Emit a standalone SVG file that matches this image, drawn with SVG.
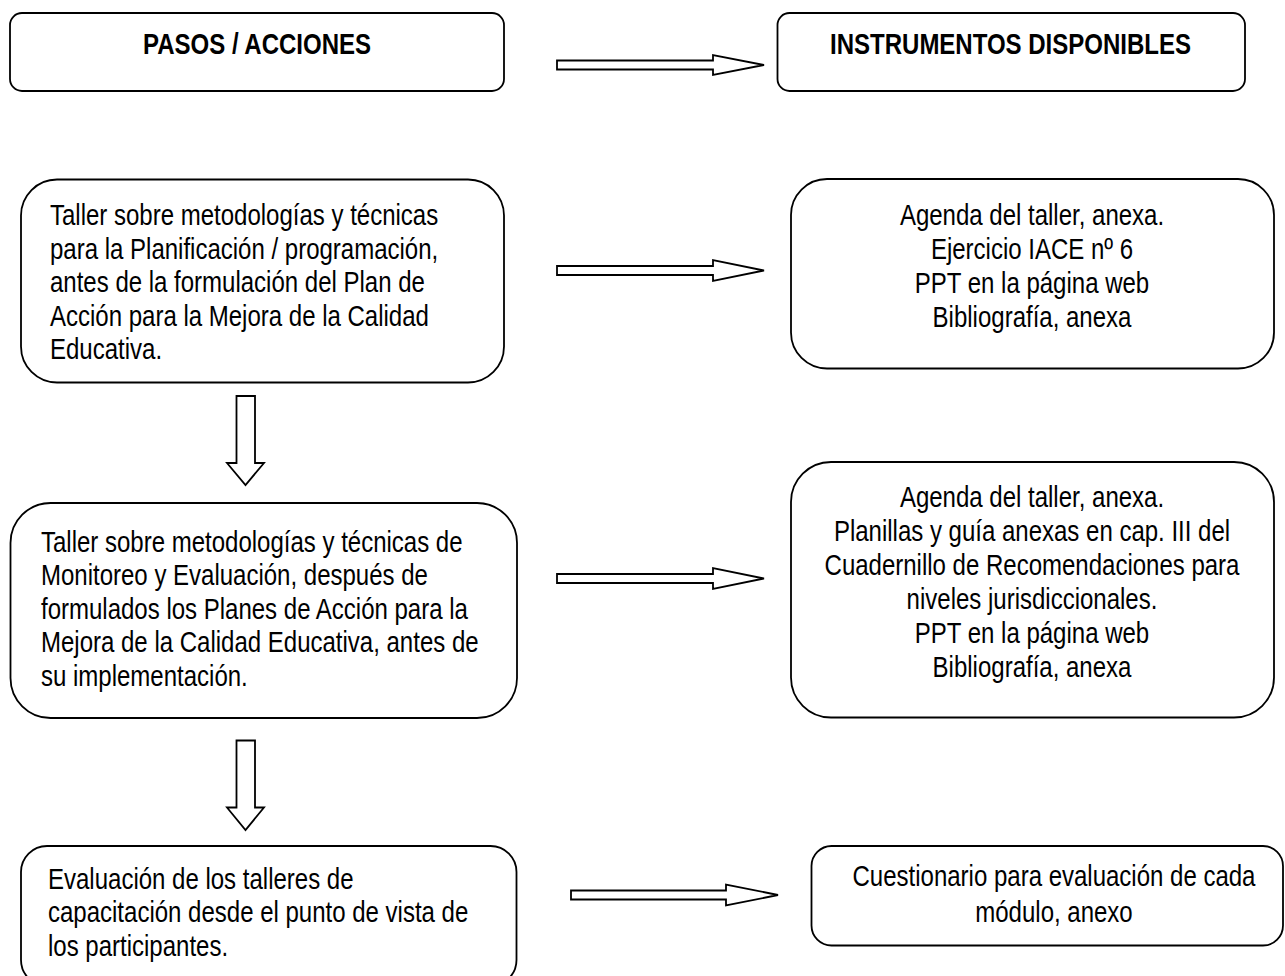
<svg xmlns="http://www.w3.org/2000/svg" width="1285" height="976" viewBox="0 0 1285 976">
<style>
.box{fill:#fff;stroke:#000;stroke-width:1.8}
.arr{fill:#fff;stroke:#000;stroke-width:1.8;stroke-linejoin:miter}
text{font-family:"Liberation Sans Narrow","Arial Narrow","Liberation Sans",Arial,sans-serif;font-size:29px;fill:#000}
.hd{font-weight:bold;text-anchor:middle}
.c{text-anchor:middle}
</style>
<rect width="1285" height="976" fill="#fff"/>
<g id="connectors">
<polygon class="arr" points="557,60.5 713,60.5 713,55 764,65 713,75 713,69.5 557,69.5"/>
<polygon class="arr" points="557,266 713,266 713,260 764,270.5 713,281 713,275 557,275"/>
<polygon class="arr" points="557,574 713,574 713,568 764,578.5 713,589 713,583 557,583"/>
<polygon class="arr" points="571,890.5 726,890.5 726,884.5 778,895 726,905.5 726,899.5 571,899.5"/>
<polygon class="arr" points="236.5,396 255,396 255,463 264,463 245.5,485 227,463 236.5,463"/>
<polygon class="arr" points="236.5,740.5 255,740.5 255,807.5 264,807.5 245.5,830 227,807.5 236.5,807.5"/>
</g>
<g id="head-pasos">
<rect class="box" x="10" y="13" width="494" height="78" rx="12"/>
<text class="hd" transform="translate(257 54) scale(0.828 1)">PASOS / ACCIONES</text>
</g>
<g id="head-instrumentos">
<rect class="box" x="777.5" y="13" width="467.5" height="78" rx="12"/>
<text class="hd" transform="translate(1010.5 54) scale(0.828 1)">INSTRUMENTOS DISPONIBLES</text>
</g>
<g id="paso1">
<rect class="box" x="21" y="179.5" width="483" height="203" rx="36"/>
<text transform="translate(50 225) scale(0.828 1)">Taller sobre metodologías y técnicas</text>
<text transform="translate(50 258.5) scale(0.828 1)">para la Planificación / programación,</text>
<text transform="translate(50 292) scale(0.828 1)">antes de la formulación del Plan de</text>
<text transform="translate(50 325.5) scale(0.828 1)">Acción para la Mejora de la Calidad</text>
<text transform="translate(50 359) scale(0.828 1)">Educativa.</text>
</g>
<g id="instr1">
<rect class="box" x="791" y="179" width="483" height="189.5" rx="36"/>
<text class="c" transform="translate(1032 225) scale(0.828 1)">Agenda del taller, anexa.</text>
<text class="c" transform="translate(1032 259) scale(0.828 1)">Ejercicio IACE nº 6</text>
<text class="c" transform="translate(1032 293) scale(0.828 1)">PPT en la página web</text>
<text class="c" transform="translate(1032 327) scale(0.828 1)">Bibliografía, anexa</text>
</g>
<g id="paso2">
<rect class="box" x="10.5" y="503" width="506.5" height="215" rx="40"/>
<text transform="translate(41 551.5) scale(0.828 1)">Taller sobre metodologías y técnicas de</text>
<text transform="translate(41 585) scale(0.828 1)">Monitoreo y Evaluación, después de</text>
<text transform="translate(41 618.5) scale(0.828 1)">formulados los Planes de Acción para la</text>
<text transform="translate(41 652) scale(0.828 1)">Mejora de la Calidad Educativa, antes de</text>
<text transform="translate(41 685.5) scale(0.828 1)">su implementación.</text>
</g>
<g id="instr2">
<rect class="box" x="791" y="462" width="483" height="255.5" rx="40"/>
<text class="c" transform="translate(1032 507) scale(0.828 1)">Agenda del taller, anexa.</text>
<text class="c" transform="translate(1032 541) scale(0.828 1)">Planillas y guía anexas en cap. III del</text>
<text class="c" transform="translate(1032 575) scale(0.828 1)">Cuadernillo de Recomendaciones para</text>
<text class="c" transform="translate(1032 609) scale(0.828 1)">niveles jurisdiccionales.</text>
<text class="c" transform="translate(1032 643) scale(0.828 1)">PPT en la página web</text>
<text class="c" transform="translate(1032 677) scale(0.828 1)">Bibliografía, anexa</text>
</g>
<g id="paso3">
<rect class="box" x="21" y="846" width="495.5" height="140" rx="26"/>
<text transform="translate(48 888.5) scale(0.828 1)">Evaluación de los talleres de</text>
<text transform="translate(48 922) scale(0.828 1)">capacitación desde el punto de vista de</text>
<text transform="translate(48 955.5) scale(0.828 1)">los participantes.</text>
</g>
<g id="instr3">
<rect class="box" x="811.5" y="846" width="471.5" height="99.5" rx="20"/>
<text class="c" transform="translate(1054 886) scale(0.828 1)">Cuestionario para evaluación de cada</text>
<text class="c" transform="translate(1054 922) scale(0.828 1)">módulo, anexo</text>
</g>
</svg>
